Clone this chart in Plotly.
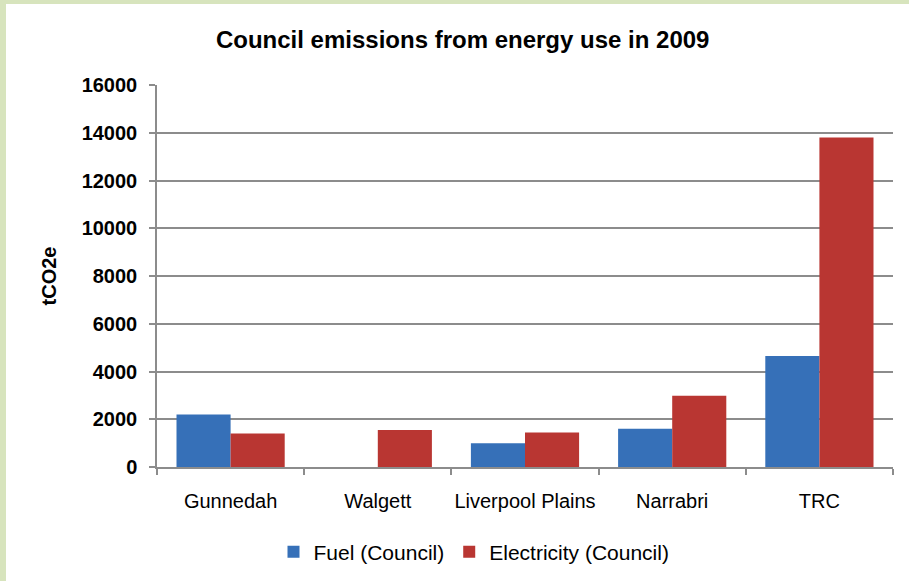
import plotly.graph_objects as go

councils = ["Gunnedah", "Walgett", "Liverpool Plains", "Narrabri", "TRC"]
fuel = [2200, 0, 1000, 1600, 4650]
electricity = [1400, 1550, 1450, 2980, 13800]
y_ticks = [0, 2000, 4000, 6000, 8000, 10000, 12000, 14000, 16000]
y_tick_labels = [f"<b>{v}</b>" for v in y_ticks]

W, H = 909, 581
L, R, T, B = 157, 16, 85, 114
pw, ph = W - L - R, H - T - B


def px_x(p):
    return (p - L) / pw


def px_y(p):
    return (H - B - p) / ph


fig = go.Figure()
fig.add_trace(go.Bar(
    x=councils, y=fuel, name="Fuel (Council)",
    marker=dict(color="#3670b8", line=dict(width=0)),
))
fig.add_trace(go.Bar(
    x=councils, y=electricity, name="Electricity (Council)",
    marker=dict(color="#b93632", line=dict(width=0)),
))

border = "#d7e4bd"
shapes = [
    dict(type="rect", xref="paper", yref="paper", layer="below",
         x0=px_x(0), x1=px_x(6), y0=px_y(H), y1=px_y(0),
         fillcolor=border, line=dict(width=0)),
    dict(type="rect", xref="paper", yref="paper", layer="below",
         x0=px_x(0), x1=px_x(W), y0=px_y(4), y1=px_y(0),
         fillcolor=border, line=dict(width=0)),
]

fig.update_layout(
    width=W, height=H,
    margin=dict(l=L, r=R, t=T, b=B, autoexpand=False),
    paper_bgcolor="white", plot_bgcolor="white",
    font=dict(family="Liberation Sans, Arial, sans-serif", color="black"),
    title=dict(text="<b>Council emissions from energy use in 2009</b>",
               x=0.509, xanchor="center", y=1 - 40 / H, yanchor="middle",
               font=dict(size=24, color="black")),
    barmode="group", bargap=0.265, bargroupgap=0,
    showlegend=True,
    legend=dict(orientation="h", x=px_x(474), xanchor="center",
                y=px_y(552), yanchor="middle",
                font=dict(size=21), itemwidth=30, tracegroupgap=0),
    shapes=shapes,
)

fig.update_xaxes(
    type="category", showgrid=False,
    showline=True, linecolor="#8c8c8c", linewidth=1.5,
    ticks="outside", tickson="boundaries", ticklen=6, tickcolor="#8c8c8c",
    tickwidth=1.5, tickfont=dict(size=20), tickangle=0, ticklabelstandoff=15,
)
fig.update_yaxes(
    range=[0, 16000], tickvals=y_ticks, ticktext=y_tick_labels,
    showgrid=True, gridcolor="#8c8c8c", gridwidth=1.5,
    showline=True, linecolor="#8c8c8c", linewidth=1.5,
    ticks="outside", ticklen=6, tickcolor="#8c8c8c", tickwidth=1.5,
    tickfont=dict(size=20), ticklabelstandoff=8,
    zeroline=False,
    title=dict(text="<b>tCO2e</b>", font=dict(size=20), standoff=20),
)

fig.write_html("out.html")
